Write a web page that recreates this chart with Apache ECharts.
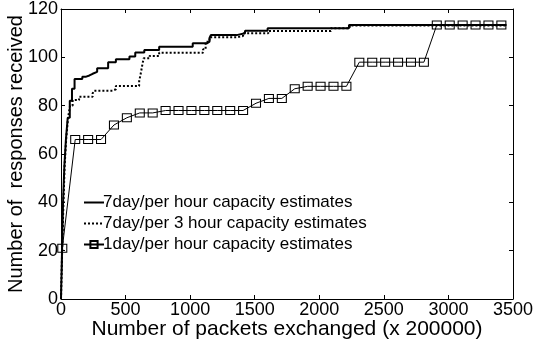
<!DOCTYPE html>
<html>
<head>
<meta charset="utf-8">
<script src="https://cdn.jsdelivr.net/npm/echarts@6/dist/echarts.min.js"></script>
<style>html,body{margin:0;padding:0;background:#fff;}#c{width:534px;height:343px;}</style>
</head>
<body>
<div id="c"></div>
<script>
var seriesNames = ['7day/per hour capacity estimates', '7day/per 3 hour capacity estimates', '1day/per hour capacity estimates'];

var hourX = [0, 8, 16, 26, 38, 52, 68, 85, 105, 165, 195, 220, 245, 280, 365, 425, 530, 575, 645, 760, 1020, 1130, 1150, 1160, 1360, 1425, 1600, 2230, 3450];
var hourY = [0, 20, 40, 55, 66, 75, 82, 87, 91, 92, 92.5, 93.2, 94, 95.5, 98, 99.2, 100.3, 102, 103, 104.4, 105.8, 106.5, 108, 109.2, 110, 111, 112, 113.4, 113.4];

var hour3X = [0, 8, 18, 28, 40, 55, 70, 90, 140, 245, 255, 400, 425, 605, 620, 630, 640, 685, 760, 1100, 1120, 1150, 1360, 1410, 1605, 2090, 2236, 3450];
var hour3Y = [0, 18, 38, 55, 66, 75, 80, 82.3, 83.7, 85.1, 86.2, 86.8, 88.1, 90, 94, 97, 99.6, 100.6, 101.9, 103.3, 106.5, 108.3, 108.8, 110, 110.9, 112, 113.2, 113.2];

var dayX = [0, 10, 110, 210, 310, 410, 510, 610, 710, 810, 910, 1010, 1110, 1210, 1310, 1410, 1510, 1610, 1710, 1810, 1910, 2010, 2110, 2210, 2310, 2410, 2510, 2610, 2710, 2810, 2910, 3010, 3110, 3210, 3310, 3410];
var dayY = [0, 21, 66, 66, 66, 72, 75, 77, 77, 78, 78, 78, 78, 78, 78, 78, 81, 83, 83, 87, 88, 88, 88, 88, 98, 98, 98, 98, 98, 98, 113.4, 113.4, 113.4, 113.4, 113.4, 113.4];

var xTicks = [0, 500, 1000, 1500, 2000, 2500, 3000, 3500];
var yTicks = [0, 20, 40, 60, 80, 100, 120];

function pairs(xs, ys) { return xs.map(function (x, i) { return [x, ys[i]]; }); }
var dayData = pairs(dayX, dayY).map(function (p, i) {
  return i === 0 ? { value: p, symbol: 'none' } : p;
});

var FONT = 'Liberation Sans';
var hidden = { opacity: 0, color: 'rgba(0,0,0,0)', borderWidth: 0 };
var chart = echarts.init(document.getElementById('c'), null, { renderer: 'canvas' });
chart.setOption({
  animation: false,
  backgroundColor: '#fff',
  textStyle: { fontFamily: FONT, color: '#000' },
  grid: { left: 61, right: 21, top: 9, bottom: 44, containLabel: false, outerBoundsMode: 'none' },
  legend: {
    orient: 'vertical', left: 78, top: 189,
    itemWidth: 20, itemHeight: 9, itemGap: 4,
    textStyle: { fontFamily: FONT, fontSize: 17, color: '#000', padding: [0, 0, 0, -6] },
    data: [
      { name: seriesNames[0], itemStyle: hidden },
      { name: seriesNames[1], itemStyle: hidden },
      { name: seriesNames[2] }
    ]
  },
  xAxis: [{
    type: 'value', min: xTicks[0], max: xTicks[xTicks.length - 1], interval: 500,
    name: 'Number of packets exchanged (x 200000)', nameLocation: 'middle', nameGap: 20, nameMoveOverlap: false,
    nameTextStyle: { fontFamily: FONT, fontSize: 21, color: '#000' },
    axisLine: { show: true, onZero: false, lineStyle: { color: '#000', width: 1 } },
    axisTick: { show: true, inside: true, length: 4, lineStyle: { color: '#000' } },
    axisLabel: { fontFamily: FONT, fontSize: 18, color: '#000', margin: 2, formatter: function (v) { return String(v); } },
    splitLine: { show: false }
  }, {
    type: 'value', position: 'top', min: xTicks[0], max: xTicks[xTicks.length - 1], interval: 500,
    axisLine: { show: true, onZero: false, lineStyle: { color: '#000', width: 1 } },
    axisTick: { show: true, inside: true, length: 4, lineStyle: { color: '#000' } },
    axisLabel: { show: false }, splitLine: { show: false }
  }],
  yAxis: [{
    type: 'value', min: yTicks[0], max: yTicks[yTicks.length - 1], interval: 20,
    name: 'Number of  responses received', nameLocation: 'middle', nameGap: 35, nameMoveOverlap: false,
    nameTextStyle: { fontFamily: FONT, fontSize: 20, color: '#000' },
    axisLine: { show: true, onZero: false, lineStyle: { color: '#000', width: 1 } },
    axisTick: { show: true, inside: true, length: 4, lineStyle: { color: '#000' } },
    axisLabel: { fontFamily: FONT, fontSize: 18, color: '#000', margin: 3, formatter: function (v) { return String(v); } },
    splitLine: { show: false }
  }, {
    type: 'value', position: 'right', min: yTicks[0], max: yTicks[yTicks.length - 1], interval: 20,
    axisLine: { show: true, onZero: false, lineStyle: { color: '#000', width: 1 } },
    axisTick: { show: true, inside: true, length: 4, lineStyle: { color: '#000' } },
    axisLabel: { show: false }, splitLine: { show: false }
  }],
  series: [{
    name: seriesNames[0], type: 'line', step: 'end', symbol: 'none',
    lineStyle: { color: '#000', width: 2 }, itemStyle: { color: '#000' },
    data: pairs(hourX, hourY)
  }, {
    name: seriesNames[1], type: 'line', step: 'end', symbol: 'none',
    lineStyle: { color: '#000', width: 2, type: [2, 2] }, itemStyle: { color: '#000' },
    data: pairs(hour3X, hour3Y)
  }, {
    name: seriesNames[2], type: 'line', symbol: 'rect', symbolSize: [9, 8], showAllSymbol: true,
    lineStyle: { color: '#000', width: 1 },
    itemStyle: { color: 'rgba(255,255,255,0)', borderColor: '#000', borderWidth: 1 },
    data: dayData
  }]
});
</script>
</body>
</html>
